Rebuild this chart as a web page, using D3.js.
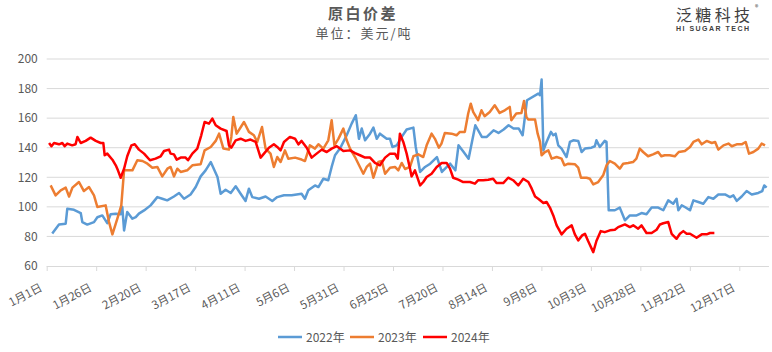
<!DOCTYPE html>
<html><head><meta charset="utf-8">
<script src="https://cdn.jsdelivr.net/npm/d3@7"></script>
<style>body{margin:0;background:#fff}svg{display:block}</style>
</head><body>
<svg id="c" width="772" height="352"></svg>
<script>
// day-of-year offsets (0 = 1月1日) and values
const tickDays = [0,25,50,75,100,125,150,175,200,225,250,275,300,325,350];
const tickLabels = ["1月1日","1月26日","2月20日","3月17日","4月11日","5月6日","5月31日","6月25日","7月20日","8月14日","9月8日","10月3日","10月28日","11月22日","12月17日"];
const yTicks = [60,80,100,120,140,160,180,200];
const seriesNames = ["2022年","2023年","2024年"];
const seriesColors = ["#5B9BD5","#ED7D31","#FF0000"];

const s2022 = [[2.8,82],[6.2,88],[9.6,88.6],[10.4,98.7],[13.8,98],[17.2,95.8],[18,89.7],[20.5,88],[23.9,89.7],[25.6,93],[28.1,94.2],[30.6,89],[32.3,95],[34.9,95.4],[37.4,95],[38.2,100],[39.1,84],[40.7,96.5],[43.3,92],[45,93],[46.6,95.4],[49.2,97.6],[52.5,101],[55.9,106.6],[58.4,105.5],[60.9,104.4],[64.3,107],[66.9,109.4],[69.4,105.5],[72.7,108.4],[75.3,113.4],[77.8,120.6],[80.3,124.7],[82.9,130.3],[86.3,120.2],[87.9,108.9],[90.4,111.6],[93,109.4],[95.5,113.9],[98,108.9],[100.5,104],[102.2,112.3],[103.9,106.6],[107.3,105.5],[110.6,107],[114,104],[116.5,106.6],[119.9,107.8],[123.8,107.8],[128.8,108.9],[130.5,105.5],[132.2,111.2],[135.6,114.5],[137.3,113.4],[139.8,119],[142.3,118],[144,127],[145.7,134.9],[148.2,139.4],[151.6,148.4],[154.1,156.3],[156.2,162],[157.8,146],[159.2,153],[160.9,145],[163.4,149.5],[165.1,153.6],[166.8,146],[168.4,149.5],[171.8,146],[173.5,146],[174.7,140.5],[176.9,141.6],[179.4,147.3],[181.9,152.3],[185.3,153.6],[186.5,140.5],[188.7,123.6],[191.2,127],[193.8,129.2],[195.5,131.5],[197.2,133.7],[199.7,123.6],[202.2,127],[203.9,129.2],[206.5,124.7],[208.1,141.6],[210.7,137.1],[213.2,132.6],[216.6,155.2],[219.9,147.3],[222.4,147.3],[225.8,151.8],[228.3,150],[230.9,152.3],[233.4,155.2],[235.9,153],[238.5,153],[240.5,148.4],[242.7,172.1],[248.4,176.6],[249.3,175.5],[250.1,186.1],[251,138.2],[252.6,143.9],[254.8,150.7],[256,148.4],[257.2,149.5],[258.5,141.6],[260.2,139.4],[262.7,133.7],[264.4,143.9],[266.1,145],[268.6,144.6],[270.3,137.1],[272,139.4],[275.3,140],[277,141],[277.8,145],[279.5,140.5],[282,144.6],[282.9,143.9],[284,97.7],[287.1,97.7],[289.6,99.5],[292.2,90.9],[294.7,94.2],[298.1,94.2],[300.6,95.8],[303.1,95],[305.7,99.5],[309,99.5],[311.6,97.7],[314.1,104.4],[316.6,102.1],[318.3,105.5],[319.2,97.7],[320.9,101],[322.5,99.9],[325.1,97.7],[326.8,104.4],[329.3,103.3],[331.8,102.1],[334.4,106.6],[336.9,105.5],[339.4,108.4],[342.8,108.4],[345.3,106.6],[347,107.8],[348.7,104],[351.2,107],[353.7,110.7],[356.3,108.4],[359.6,109.4],[361.6,110.7],[362.6,114.5],[363.8,113]];

const s2023 = [[2,114.5],[4.5,107.8],[7.1,111.2],[9.6,113],[11.3,107],[13,113],[16.3,116.8],[18.8,110.7],[21.4,113.4],[23.9,107.8],[25.6,99.9],[29.8,101],[31.5,89.7],[33.2,81.4],[35.7,92],[37.7,101],[39.1,124.7],[41.6,124.7],[43.3,124.7],[45.8,131.5],[48.4,131],[50.9,129.2],[53.4,126.5],[55.9,127],[58.4,120.6],[61,125.8],[62.6,127],[64.3,120.6],[66,125.8],[67.7,123.6],[71,124.7],[73.6,128.1],[77.8,128.8],[79.8,138.2],[82.9,140.5],[85.4,144.6],[87.1,149.5],[89.3,139.4],[92.1,138.7],[93.3,147.3],[94.3,160.8],[96,149.5],[99.7,157.4],[102.2,150.7],[104.7,148.4],[106.4,143.9],[108.8,154],[110.6,139.4],[113.1,136],[114.8,127],[116.5,133.7],[118.2,130.3],[120.4,138.2],[122.1,132.6],[125.5,133.3],[128.8,132],[130.5,131],[133,141.6],[135.6,139.4],[137.3,142.3],[139.8,139.4],[142.3,145],[144,158.6],[145.4,141.6],[147.4,146],[149.9,152.9],[151.6,145],[153.3,139.4],[155.8,133.7],[158.3,127],[160,122.4],[161.7,127],[163.4,129.2],[165.1,119.7],[167.6,130.3],[169.3,131],[171,122.4],[173.5,126.5],[176,127],[177.7,124.7],[179.4,129.7],[181.1,125.6],[183.6,127],[185.3,134.2],[187.8,135.5],[190.3,133.7],[192,141.6],[194.5,149.5],[196.2,146],[198.2,140],[199.5,142.8],[201.2,150],[204.6,149.5],[207.1,148.4],[208.8,150.7],[211.3,150.7],[213,163.1],[214.3,169.8],[215.5,164.2],[218,158.6],[219.7,165.3],[221.3,161.3],[223.9,164.2],[226.4,168.7],[228.9,163.5],[231.5,165.3],[234,167.6],[234.8,158.6],[237.3,163.1],[239.9,163.5],[241.2,171.6],[242.4,160.8],[243.4,159],[246.8,159],[248.1,149.5],[249.3,143.9],[250.1,134.9],[251.8,137.1],[253.5,138.2],[255.2,132.6],[257.7,133.7],[260.2,132.6],[261.6,128.1],[263.6,129.2],[267,128.8],[268.6,126.5],[270,119.7],[272.8,119.7],[274.5,119],[276.2,115.2],[278.7,116.8],[281.2,121.3],[282.9,128.1],[284.6,131],[287.1,129.2],[289.6,125.8],[291.3,129.2],[293.8,129.7],[296.3,130.3],[298,132.6],[299.7,139.4],[301.4,137.1],[303.9,134.2],[306.4,135.5],[309,137.1],[310.6,134.2],[312.3,134.9],[314.8,134.9],[317.4,134.2],[319.4,137.1],[322.5,137.8],[325.1,140.5],[326.8,143.9],[329.3,145.5],[331,142.3],[333.5,144.6],[336.1,143.2],[337.8,143.9],[339.4,138.7],[342,141.6],[344.5,142.8],[346.2,141],[348.7,142.3],[351.2,142.3],[353.2,143.9],[354.9,136],[357.1,137.1],[359.6,139.4],[361.3,142.8],[363,141.6]];

const s2024 = [[1.2,143.2],[2.4,141],[3.7,143.2],[6.2,142.3],[7.9,143.2],[9.1,141],[10.4,142.8],[12.9,141.6],[14.6,142.3],[15.5,147.3],[17.2,143.2],[19.7,144.6],[22.2,146.8],[24.8,144.6],[27.3,143.2],[28.6,143.2],[29.3,134.9],[30.6,136],[33.2,131.9],[34.9,128.1],[36,124.7],[37.4,119.7],[39.1,125.8],[40.7,134.2],[42.8,141.6],[44.5,142.3],[46.6,138.7],[49.2,136],[52.2,131.5],[55,132.6],[57.6,134.2],[59.3,137.8],[61.8,138.7],[62.6,136],[64.3,135.5],[65.7,131.9],[67.7,133.3],[70.2,133.3],[71.4,131.5],[73.6,136],[76.1,139.4],[78.1,148.4],[79.8,157.4],[82,156.3],[83.7,159.7],[85.4,155.2],[87.9,152.9],[90.9,151.3],[92.1,141.6],[93.3,140],[95.5,145],[98,146.1],[100.5,144.6],[103,145.5],[105.6,143.9],[108.1,133.3],[109.8,136],[112.3,140],[114.8,142.3],[116.5,140.5],[118.2,138.2],[119.9,143.9],[122.9,147.3],[125.5,146.1],[127.2,142.3],[128.8,144.6],[131.4,140],[133.9,133.3],[136.4,136],[139,138.7],[141.5,137.1],[144,139.4],[146.6,141],[148.2,139.4],[149.9,137.8],[153.3,138.2],[155.8,136.4],[158.3,134.9],[160.9,133.3],[163.4,133.3],[165.9,129.7],[168.4,128.1],[171,133.3],[173.5,136],[176,136],[177.4,132.6],[178.5,149.5],[180.2,143.9],[181.9,136],[183.6,125.8],[184.4,120.6],[186.1,124.7],[188.7,114.5],[190.3,116.8],[192,120.2],[194.5,122.4],[197.1,127],[199.6,129.7],[202.1,129.7],[203.8,125.8],[205.4,119.7],[208,118.4],[210.5,116.8],[213.9,116.8],[216.4,115.7],[218.1,118],[220.6,118],[223.1,118.4],[225.6,119],[227.3,116.1],[230.7,116.1],[233.2,119.7],[235.7,118],[238.3,114.5],[240.8,119],[243.4,116.8],[245.1,112.3],[246.8,107],[248.4,105.5],[251,102.6],[252.6,103.3],[254.3,99.5],[256,94.2],[257.7,87.5],[260.2,81.4],[262.7,85.2],[265.3,87.5],[266.9,81.4],[268.6,77.3],[270.6,80.7],[272,81.8],[273.6,76.9],[276.2,69.4],[277.8,76.9],[280,83.6],[282,82.9],[284.6,84.1],[287.1,84.5],[288.8,86.3],[292.2,88.1],[294.7,86.3],[296.4,87.5],[298.9,85.2],[300.6,87.5],[303.1,82.3],[305.7,82.3],[308.2,84.5],[309.9,88.1],[311.6,88.9],[314.1,89.7],[315.8,81.8],[318.3,78.4],[320,81.8],[321.7,83.6],[323.4,81.8],[325.1,81.8],[328.4,79.1],[331,81.4],[333.5,81.4],[335.2,82.3],[337.4,82.3]];

const allSeries = [s2022, s2023, s2024];

const svg = d3.select("#c");
const textColor = "#595959";
const font = "'Noto Sans CJK SC', 'Noto Sans', sans-serif";

const x = d3.scaleLinear().domain([0, 350]).range([46.7, 739.3]);
const y = d3.scaleLinear().domain([60, 200]).range([266, 59]);
const xRight = x(365);

// gridlines
svg.append("g").selectAll("line").data(yTicks.filter(v => v > 60)).join("line")
  .attr("x1", x(0)).attr("x2", xRight)
  .attr("y1", d => y(d)).attr("y2", d => y(d))
  .attr("stroke", "#d9d9d9").attr("stroke-width", 1);

// y axis
const yAxis = svg.append("g").attr("transform", `translate(${x(0)},0)`)
  .call(d3.axisLeft(y).tickValues(yTicks).tickSize(0).tickPadding(9));
yAxis.select(".domain").remove();
yAxis.selectAll("text").attr("fill", textColor).attr("font-size", 12).attr("font-family", font);

// x axis
const xAxis = svg.append("g").attr("transform", `translate(0,${y(60)})`)
  .call(d3.axisBottom(x).tickValues(tickDays).tickFormat((d, i) => tickLabels[i]).tickSize(5).tickSizeOuter(0));
xAxis.select(".domain").attr("d", `M${x(0)},0.5H${xRight}`).attr("stroke", "#d9d9d9");
xAxis.selectAll(".tick line").attr("stroke", "#d9d9d9");
xAxis.selectAll("text")
  .attr("fill", textColor).attr("font-size", 11.5).attr("font-family", font)
  .attr("text-anchor", "end").attr("dy", 0).attr("y", 0)
  .attr("transform", "translate(-4,24) rotate(-28)");

// lines
const line = d3.line().x(d => x(d[0])).y(d => y(d[1]));
allSeries.forEach((s, i) => {
  svg.append("path").datum(s)
    .attr("d", line).attr("fill", "none")
    .attr("stroke", seriesColors[i]).attr("stroke-width", 2.5)
    .attr("stroke-linejoin", "round");
});

// title
svg.append("text").attr("x", 363).attr("y", 19).attr("text-anchor", "middle")
  .attr("font-family", font).attr("font-weight", "bold").attr("font-size", 15)
  .attr("letter-spacing", 2.5)
  .attr("fill", textColor).text("原白价差");
svg.append("text").attr("x", 364).attr("y", 38).attr("text-anchor", "middle")
  .attr("font-family", font).attr("font-size", 13)
  .attr("letter-spacing", 2)
  .attr("fill", textColor).text("单位：美元/吨");

// logo
svg.append("text").attr("x", 676).attr("y", 21)
  .attr("font-family", font).attr("font-size", 16).attr("fill", "#404040")
  .attr("textLength", 74).text("泛糖科技");
svg.append("text").attr("x", 755).attr("y", 10)
  .attr("font-family", font).attr("font-size", 7).attr("fill", "#404040").text("®");
svg.append("text").attr("x", 676).attr("y", 31)
  .attr("font-family", "'Liberation Sans', Arial, sans-serif").attr("font-weight", "bold")
  .attr("font-size", 7).attr("fill", "#404040").attr("textLength", 73).text("HI SUGAR TECH");

// legend
const legendX = [278, 350, 423];
seriesNames.forEach((n, i) => {
  const g = svg.append("g").attr("transform", `translate(${legendX[i]},337)`);
  g.append("line").attr("x1", 0).attr("x2", 24).attr("y1", 0).attr("y2", 0)
    .attr("stroke", seriesColors[i]).attr("stroke-width", 2.5);
  g.append("text").attr("x", 28).attr("y", 4.5)
    .attr("font-family", font).attr("font-size", 12).attr("fill", textColor).text(n);
});
</script>
</body></html>
